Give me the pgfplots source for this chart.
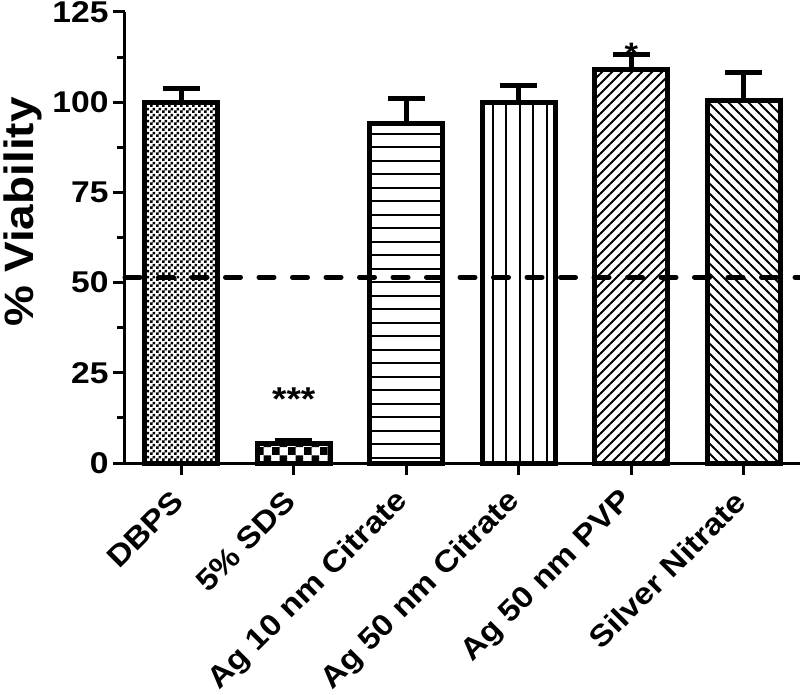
\documentclass[border=0pt]{standalone}
\usepackage{fontspec}
\setmainfont{Liberation Sans}[FakeStretch=1.12]
\usepackage{pgfplots}
\pgfplotsset{compat=1.18}
\usetikzlibrary{patterns}

% fine checkerboard
\pgfdeclarepatternformonly{checkfine}{\pgfqpoint{0pt}{0pt}}{\pgfqpoint{6pt}{6pt}}{\pgfqpoint{6pt}{6pt}}{%
  \pgfpathrectangle{\pgfqpoint{0pt}{0pt}}{\pgfqpoint{3pt}{3pt}}%
  \pgfpathrectangle{\pgfqpoint{3pt}{3pt}}{\pgfqpoint{3pt}{3pt}}%
  \pgfusepath{fill}}
% coarse checkerboard
\pgfdeclarepatternformonly{checkbig}{\pgfqpoint{0pt}{0pt}}{\pgfqpoint{16pt}{16pt}}{\pgfqpoint{16pt}{16pt}}{%
  \pgfpathrectangle{\pgfqpoint{0pt}{0pt}}{\pgfqpoint{8pt}{8pt}}%
  \pgfpathrectangle{\pgfqpoint{8pt}{8pt}}{\pgfqpoint{8pt}{8pt}}%
  \pgfusepath{fill}}
% horizontal lines
\pgfdeclarepatternformonly{hlines}{\pgfqpoint{-1pt}{-1pt}}{\pgfqpoint{14.5pt}{14.5pt}}{\pgfqpoint{13.5pt}{13.5pt}}{%
  \pgfsetlinewidth{2pt}%
  \pgfpathmoveto{\pgfqpoint{-1pt}{6.75pt}}\pgfpathlineto{\pgfqpoint{14.5pt}{6.75pt}}%
  \pgfusepath{stroke}}
% vertical lines
\pgfdeclarepatternformonly{vlines}{\pgfqpoint{-1pt}{-1pt}}{\pgfqpoint{14.5pt}{14.5pt}}{\pgfqpoint{13.5pt}{13.5pt}}{%
  \pgfsetlinewidth{2pt}%
  \pgfpathmoveto{\pgfqpoint{6.75pt}{-1pt}}\pgfpathlineto{\pgfqpoint{6.75pt}{14.5pt}}%
  \pgfusepath{stroke}}
% north east lines
\pgfdeclarepatternformonly{nelines}{\pgfqpoint{-1pt}{-1pt}}{\pgfqpoint{11pt}{11pt}}{\pgfqpoint{10pt}{10pt}}{%
  \pgfsetlinewidth{1.8pt}%
  \pgfpathmoveto{\pgfqpoint{0pt}{0pt}}\pgfpathlineto{\pgfqpoint{10.1pt}{10.1pt}}%
  \pgfusepath{stroke}}
% north west lines
\pgfdeclarepatternformonly{nwlines}{\pgfqpoint{-1pt}{-1pt}}{\pgfqpoint{11pt}{11pt}}{\pgfqpoint{10pt}{10pt}}{%
  \pgfsetlinewidth{1.8pt}%
  \pgfpathmoveto{\pgfqpoint{0pt}{10pt}}\pgfpathlineto{\pgfqpoint{10.1pt}{-0.1pt}}%
  \pgfusepath{stroke}}

\begin{document}
\begin{tikzpicture}
\begin{axis}[
  name=ax, at={(0pt,0pt)}, anchor=south west,
  scale only axis, width=675pt, height=451pt,
  xmin=-0.5, xmax=5.5, ymin=0, ymax=125,
  axis x line*=bottom, axis y line*=left,
  axis line style={-, line width=3pt, black},
  ytick={0,25,50,75,100,125},
  minor ytick={12.5,37.5,62.5,87.5,112.5},
  xtick={0,1,2,3,4,5},
  xticklabels={DBPS,5\% SDS,Ag 10 nm Citrate,Ag 50 nm Citrate,Ag 50 nm PVP,Silver Nitrate},
  tick align=outside,
  major tick length=12pt, minor tick length=8pt,
  tick style={line width=3pt, black},
  /pgf/number format/assume math mode=true,
  yticklabel style={font=\bfseries\fontsize{30}{30}\selectfont, xshift=-1pt},
  xticklabel style={font=\bfseries\fontsize{30}{30}\selectfont, rotate=45, anchor=east, yshift=-13pt, xshift=-14pt},
  ylabel={\% Viability},
  every axis y label/.style={at={(axis description cs:-0.152,0.557)}, rotate=90, anchor=center,
     font=\bfseries\fontsize{41}{41}\selectfont},
  clip=false,
  ybar, bar width=73pt,
  error bars/y dir=plus, error bars/y explicit,
  error bars/error bar style={line width=5pt, black},
  error bars/error mark options={rotate=90, line width=5pt, mark size=18.5pt, black},
]
\addplot[bar shift=0pt, draw=black, line width=5pt, pattern=checkfine] coordinates {(0,100) +- (0,3.8)};
\addplot[bar shift=0pt, draw=black, line width=5pt, pattern=checkbig] coordinates {(1,5.5) +- (0,0.6)};
\addplot[bar shift=0pt, draw=black, line width=5pt, pattern=hlines] coordinates {(2,94.0) +- (0,7.0)};
\addplot[bar shift=0pt, draw=black, line width=5pt, pattern=vlines] coordinates {(3,99.8) +- (0,4.9)};
\addplot[bar shift=0pt, draw=black, line width=5pt, pattern=nelines] coordinates {(4,109.2) +- (0,4.0)};
\addplot[bar shift=0pt, draw=black, line width=5pt, pattern=nwlines] coordinates {(5,100.6) +- (0,7.7)};
\addplot[sharp plot, no marks, black, line width=5pt, line cap=round, dash pattern=on 15pt off 18.5pt, error bars/y dir=none] coordinates {(-0.5,51.5) (5.5,51.5)};
\node[font=\bfseries\fontsize{33}{33}\selectfont, anchor=base] at (axis cs:1,14.5) {***};
\node[font=\bfseries\fontsize{31}{31}\selectfont, anchor=base] at (axis cs:4,110.5) {*};
\end{axis}
\pgfresetboundingbox
\path[use as bounding box] ([shift={(-125pt,-231pt)}]ax.south west) rectangle ([shift={(675pt,463pt)}]ax.south west);
\end{tikzpicture}
\end{document}
